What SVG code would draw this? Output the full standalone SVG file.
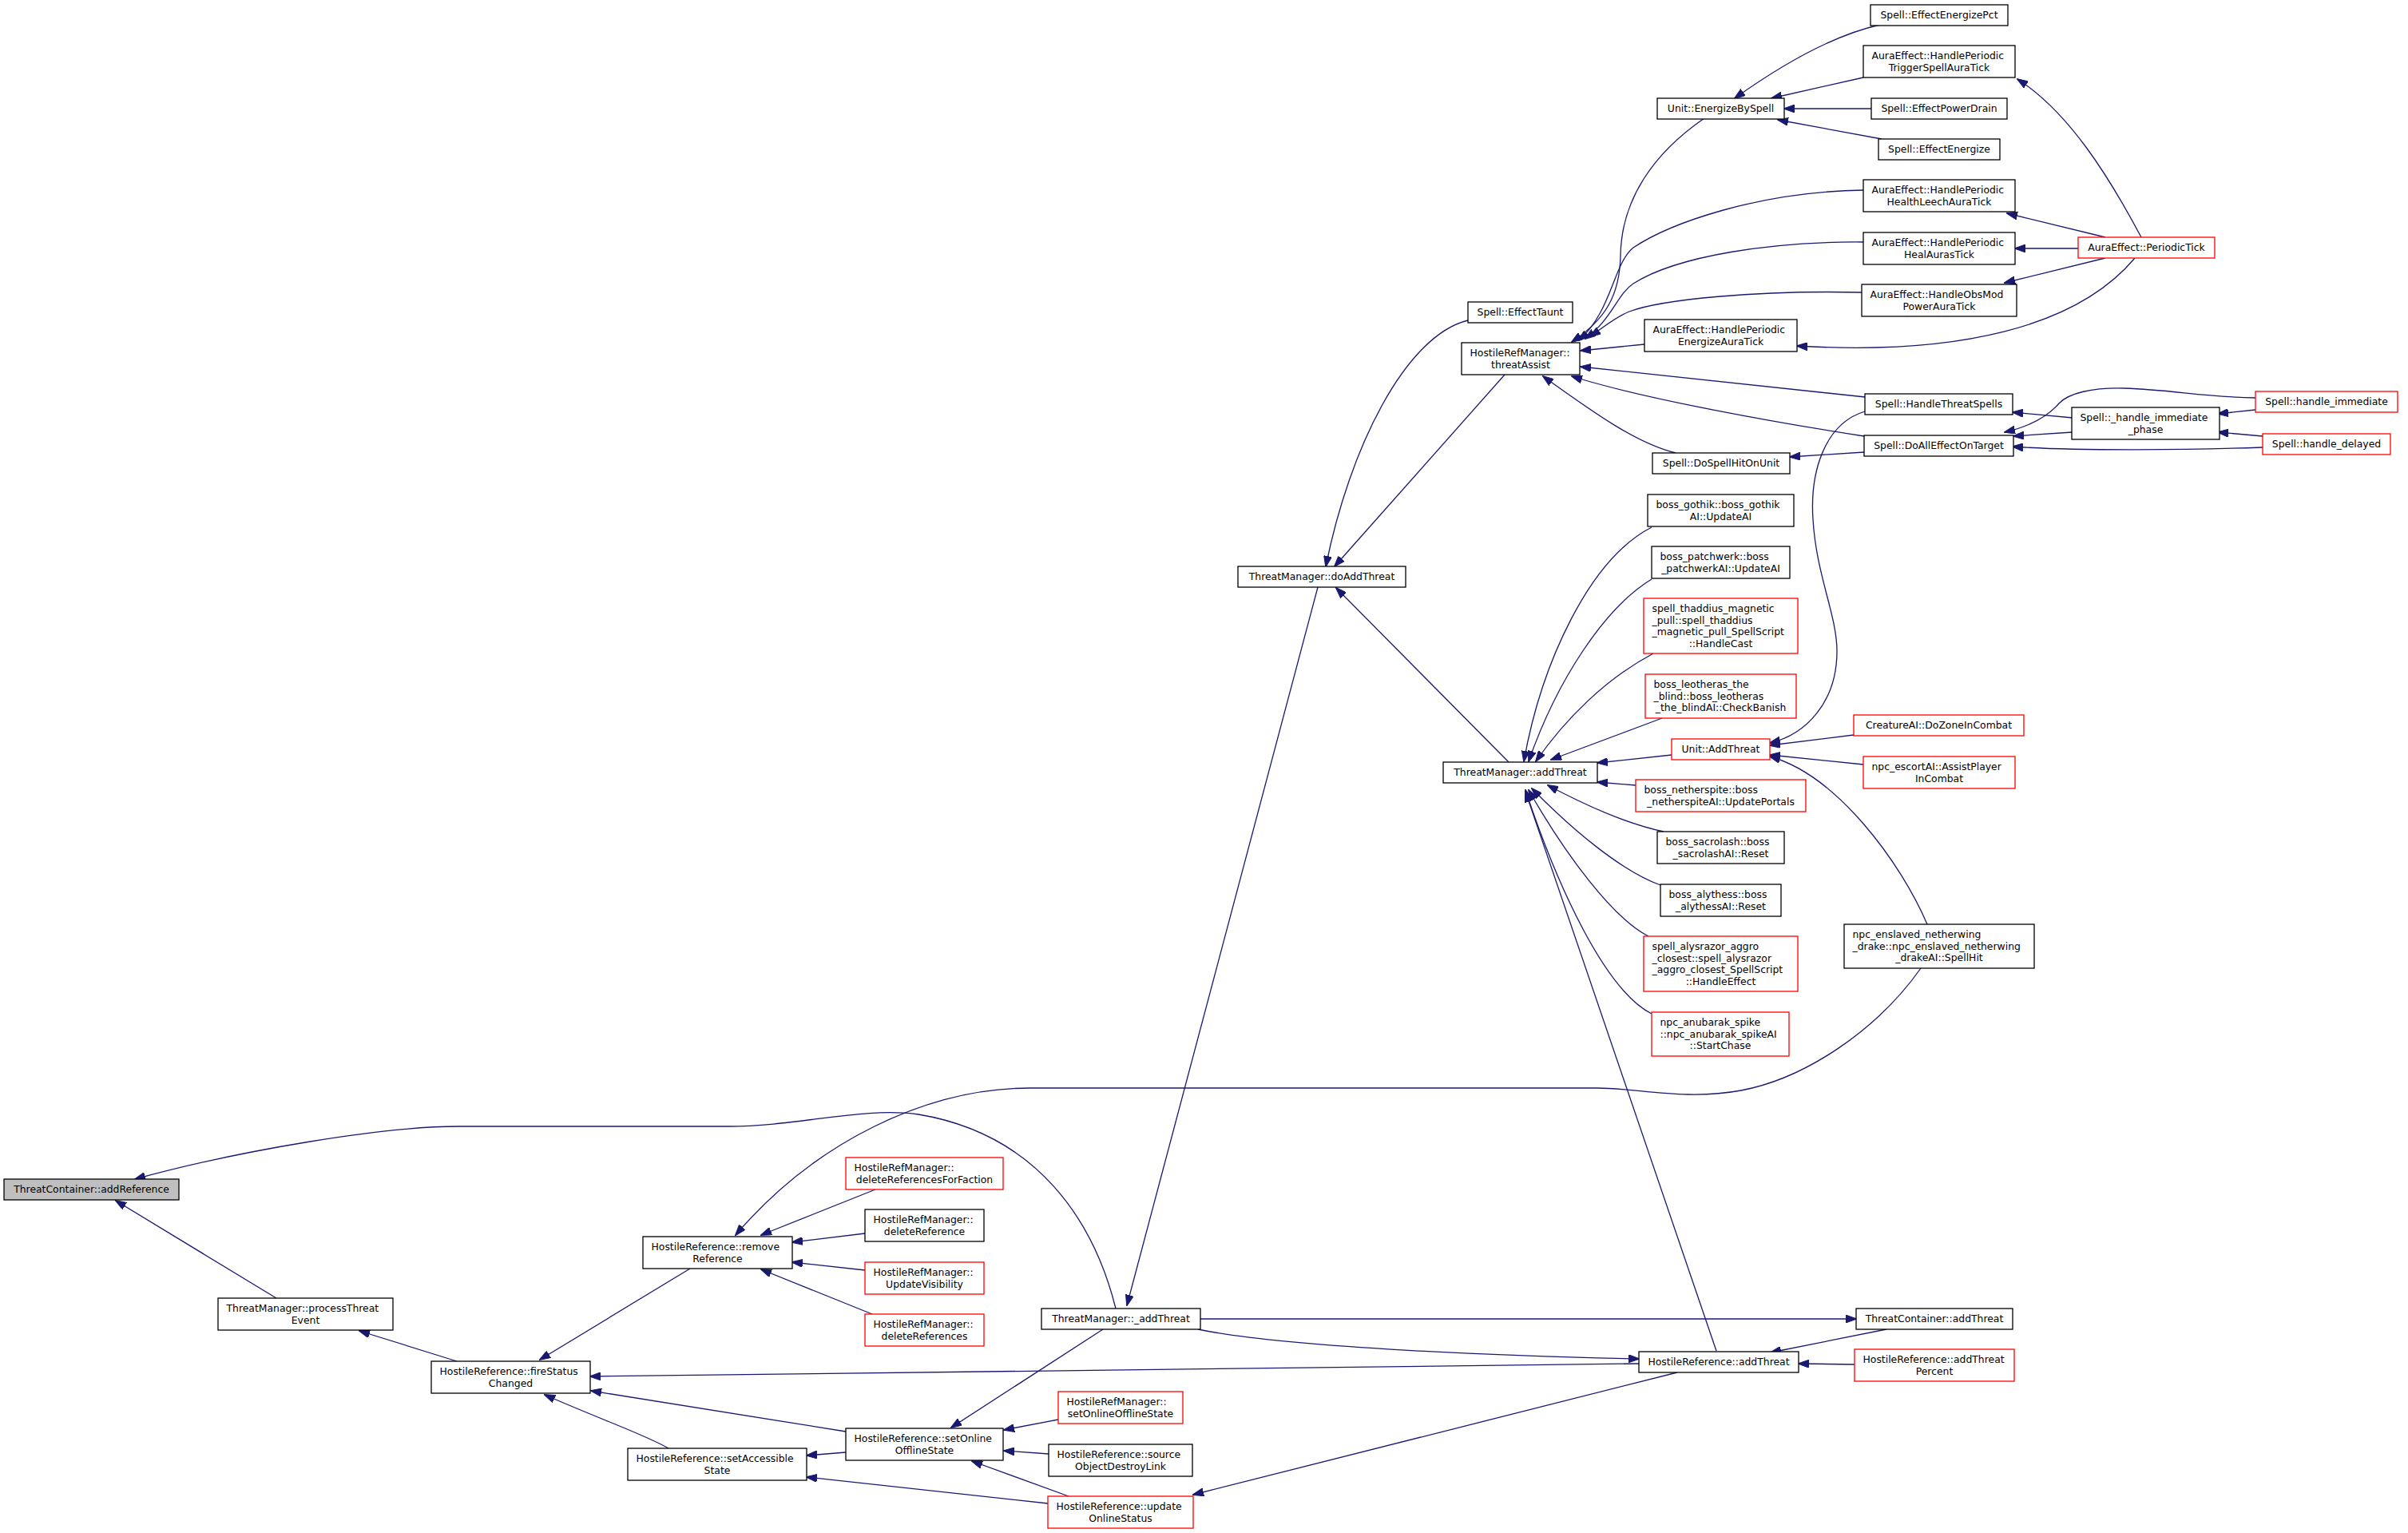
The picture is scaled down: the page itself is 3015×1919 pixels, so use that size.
<svg xmlns="http://www.w3.org/2000/svg" width="3015" height="1919" viewBox="0 0 3015 1919">
<style>
.n rect{fill:#fff;stroke:#000;stroke-width:1.3}
.r rect{stroke:#f00}
.g rect{fill:#bfbfbf}
text{font-family:"DejaVu Sans","Liberation Sans",sans-serif;font-size:12.4px;fill:#000}
.m{text-anchor:middle}
.e path{fill:none;stroke:#191970;stroke-width:1.3;marker-end:url(#a)}
</style>
<defs>
<marker id="a" markerUnits="userSpaceOnUse" markerWidth="14" markerHeight="10" viewBox="0 0 14 10" refX="13" refY="5" orient="auto"><path d="M0,0 L14,5 L0,10 z" fill="#191970" stroke="#191970" stroke-width="1"/></marker>
</defs>
<rect width="3015" height="1919" fill="#fff"/>
<g class="e" id="edges">
<path d="M346,1625 L145,1503"/>
<path d="M1397,1638 C1370,1530 1300,1420 1150,1395 C1080,1385 1000,1410 912,1410 L574,1410 C480,1410 300,1440 169,1476"/>
<path d="M572,1704 L450,1666"/>
<path d="M864,1588 L676,1702"/>
<path d="M837,1813 C810,1797 760,1780 682,1746"/>
<path d="M2052,1707 L739,1723"/>
<path d="M1500,1664 C1600,1685 1850,1697 2052,1701"/>
<path d="M1059,1792 L740,1741"/>
<path d="M1059,1818 L1010,1822"/>
<path d="M1312,1882 L1010,1849"/>
<path d="M1381,1664 L1191,1787"/>
<path d="M1325,1777 L1257,1790"/>
<path d="M1313,1820 L1257,1816"/>
<path d="M1338,1873 L1217,1829"/>
<path d="M2100,1718 L1494,1871"/>
<path d="M1503,1651 L2324,1651"/>
<path d="M2362,1664 L2217,1693"/>
<path d="M2322,1708 L2252,1707"/>
<path d="M1096,1489 L953,1546"/>
<path d="M1083,1544 L992,1555"/>
<path d="M1083,1590 L992,1580"/>
<path d="M1092,1645 L953,1589"/>
<path d="M2405,1212 C2350,1290 2260,1350 2180,1365 C2110,1378 2050,1362 2000,1362 L1290,1362 C1160,1362 1020,1430 921,1546"/>
<path d="M1838,401 C1760,420 1690,560 1660,709"/>
<path d="M1884,469 L1671,709"/>
<path d="M1889,954 L1673,736"/>
<path d="M1650,735 L1411,1634"/>
<path d="M2134,148 C2070,192 2030,250 2029,320 C2028,370 2010,400 1968,428"/>
<path d="M2333,238 C2200,240 2090,280 2045,310 C2020,330 2018,390 1977,426"/>
<path d="M2333,303 C2220,302 2100,320 2045,355 C2025,368 2018,400 1985,424"/>
<path d="M2331,366 C2200,363 2080,375 2040,390 C2020,398 2008,410 1991,421"/>
<path d="M2059,431 L1979,439"/>
<path d="M2335,497 L1979,459"/>
<path d="M2334,546 C2230,530 2060,500 1968,471"/>
<path d="M2098,567 C2050,555 2000,520 1932,471"/>
<path d="M2354,31 C2300,43 2235,78 2172,123"/>
<path d="M2333,97 L2218,123"/>
<path d="M2343,136 L2234,136"/>
<path d="M2356,174 L2226,150"/>
<path d="M2681,297 C2640,220 2590,140 2526,99"/>
<path d="M2636,297 L2513,267"/>
<path d="M2602,311 L2523,311"/>
<path d="M2636,323 L2510,354"/>
<path d="M2673,323 C2600,410 2450,445 2250,433"/>
<path d="M2595,523 L2520,516"/>
<path d="M2595,541 L2521,546"/>
<path d="M2824,498 C2760,497 2720,488 2660,486 C2620,485 2590,492 2578,505 C2565,520 2545,533 2510,541"/>
<path d="M2824,513 L2777,518"/>
<path d="M2833,546 L2777,541"/>
<path d="M2833,560 C2750,563 2600,565 2520,559"/>
<path d="M2334,566 L2241,572"/>
<path d="M2335,515 C2285,530 2266,590 2270,650 C2274,720 2300,770 2300,815 C2300,880 2260,920 2216,930"/>
<path d="M2321,920 L2216,933"/>
<path d="M2333,957 L2216,945"/>
<path d="M2413,1157 C2380,1080 2300,970 2216,947"/>
<path d="M2068,660 C1990,700 1930,830 1908,953"/>
<path d="M2068,725 C2010,760 1950,850 1914,953"/>
<path d="M2070,818 C2010,850 1960,900 1923,953"/>
<path d="M2081,899 L1942,951"/>
<path d="M2093,945 L2000,955"/>
<path d="M2048,983 L2000,979"/>
<path d="M2083,1041 C2030,1030 1970,1000 1938,983"/>
<path d="M2079,1108 C2030,1090 1970,1040 1918,987"/>
<path d="M2064,1172 C2020,1150 1960,1070 1914,989"/>
<path d="M2068,1269 C2010,1240 1950,1110 1910,989"/>
<path d="M2149,1691 L1910,991"/>
</g>
<g id="n1" class="n g"><rect x="5" y="1476" width="219" height="26"/><text class="m" x="114.5" y="1493">ThreatContainer::addReference</text></g>
<g id="n2" class="n"><rect x="273" y="1625" width="219" height="40"/><text x="283.5" y="1642">ThreatManager::processThreat</text><text class="m" x="382.5" y="1656.5">Event</text></g>
<g id="n3" class="n"><rect x="540" y="1704" width="199" height="40"/><text x="550.5" y="1721">HostileReference::fireStatus</text><text class="m" x="639.5" y="1735.5">Changed</text></g>
<g id="n4" class="n"><rect x="805" y="1548" width="187" height="40"/><text x="815.5" y="1565">HostileReference::remove</text><text class="m" x="898.5" y="1579.5">Reference</text></g>
<g id="n5" class="n"><rect x="786" y="1813" width="224" height="40"/><text x="796.5" y="1830">HostileReference::setAccessible</text><text class="m" x="898" y="1844.5">State</text></g>
<g id="n6" class="n r"><rect x="1059" y="1449" width="197" height="40"/><text x="1069.5" y="1466">HostileRefManager::</text><text class="m" x="1157.5" y="1480.5">deleteReferencesForFaction</text></g>
<g id="n7" class="n"><rect x="1083" y="1514" width="149" height="40"/><text x="1093.5" y="1531">HostileRefManager::</text><text class="m" x="1157.5" y="1545.5">deleteReference</text></g>
<g id="n8" class="n r"><rect x="1083" y="1580" width="149" height="40"/><text x="1093.5" y="1597">HostileRefManager::</text><text class="m" x="1157.5" y="1611.5">UpdateVisibility</text></g>
<g id="n9" class="n r"><rect x="1083" y="1645" width="149" height="40"/><text x="1093.5" y="1662">HostileRefManager::</text><text class="m" x="1157.5" y="1676.5">deleteReferences</text></g>
<g id="n10" class="n"><rect x="1304" y="1638" width="199" height="26"/><text class="m" x="1403.5" y="1655">ThreatManager::_addThreat</text></g>
<g id="n11" class="n r"><rect x="1325" y="1742" width="156" height="40"/><text x="1335.5" y="1759">HostileRefManager::</text><text class="m" x="1403" y="1773.5">setOnlineOfflineState</text></g>
<g id="n12" class="n"><rect x="1059" y="1788" width="197" height="40"/><text x="1069.5" y="1805">HostileReference::setOnline</text><text class="m" x="1157.5" y="1819.5">OfflineState</text></g>
<g id="n13" class="n"><rect x="1313" y="1808" width="180" height="40"/><text x="1323.5" y="1825">HostileReference::source</text><text class="m" x="1403" y="1839.5">ObjectDestroyLink</text></g>
<g id="n14" class="n r"><rect x="1312" y="1873" width="182" height="40"/><text x="1322.5" y="1890">HostileReference::update</text><text class="m" x="1403" y="1904.5">OnlineStatus</text></g>
<g id="n15" class="n"><rect x="2324" y="1638" width="196" height="26"/><text class="m" x="2422" y="1655">ThreatContainer::addThreat</text></g>
<g id="n16" class="n"><rect x="2052" y="1692" width="200" height="26"/><text class="m" x="2152" y="1709">HostileReference::addThreat</text></g>
<g id="n17" class="n r"><rect x="2322" y="1689" width="200" height="40"/><text x="2332.5" y="1706">HostileReference::addThreat</text><text class="m" x="2422" y="1720.5">Percent</text></g>
<g id="n18" class="n"><rect x="1550" y="709" width="210" height="26"/><text class="m" x="1655" y="726">ThreatManager::doAddThreat</text></g>
<g id="n19" class="n"><rect x="1807" y="954" width="193" height="26"/><text class="m" x="1903.5" y="971">ThreatManager::addThreat</text></g>
<g id="n20" class="n"><rect x="1838" y="378" width="131" height="26"/><text class="m" x="1903.5" y="395">Spell::EffectTaunt</text></g>
<g id="n21" class="n"><rect x="1830" y="429" width="148" height="40"/><text x="1840.5" y="446">HostileRefManager::</text><text class="m" x="1904" y="460.5">threatAssist</text></g>
<g id="n22" class="n"><rect x="2075" y="123" width="159" height="26"/><text class="m" x="2154.5" y="140">Unit::EnergizeBySpell</text></g>
<g id="n23" class="n"><rect x="2342" y="6" width="172" height="26"/><text class="m" x="2428" y="23">Spell::EffectEnergizePct</text></g>
<g id="n24" class="n"><rect x="2333" y="57" width="190" height="40"/><text x="2343.5" y="74">AuraEffect::HandlePeriodic</text><text class="m" x="2428" y="88.5">TriggerSpellAuraTick</text></g>
<g id="n25" class="n"><rect x="2343" y="123" width="170" height="26"/><text class="m" x="2428" y="140">Spell::EffectPowerDrain</text></g>
<g id="n26" class="n"><rect x="2352" y="174" width="152" height="26"/><text class="m" x="2428" y="191">Spell::EffectEnergize</text></g>
<g id="n27" class="n"><rect x="2333" y="225" width="190" height="40"/><text x="2343.5" y="242">AuraEffect::HandlePeriodic</text><text class="m" x="2428" y="256.5">HealthLeechAuraTick</text></g>
<g id="n28" class="n"><rect x="2333" y="291" width="190" height="40"/><text x="2343.5" y="308">AuraEffect::HandlePeriodic</text><text class="m" x="2428" y="322.5">HealAurasTick</text></g>
<g id="n29" class="n"><rect x="2331" y="356" width="194" height="40"/><text x="2341.5" y="373">AuraEffect::HandleObsMod</text><text class="m" x="2428" y="387.5">PowerAuraTick</text></g>
<g id="n30" class="n"><rect x="2059" y="400" width="191" height="40"/><text x="2069.5" y="417">AuraEffect::HandlePeriodic</text><text class="m" x="2154.5" y="431.5">EnergizeAuraTick</text></g>
<g id="n31" class="n r"><rect x="2602" y="297" width="171" height="26"/><text class="m" x="2687.5" y="314">AuraEffect::PeriodicTick</text></g>
<g id="n32" class="n"><rect x="2335" y="493" width="185" height="26"/><text class="m" x="2427.5" y="510">Spell::HandleThreatSpells</text></g>
<g id="n33" class="n"><rect x="2334" y="545" width="187" height="26"/><text class="m" x="2427.5" y="562">Spell::DoAllEffectOnTarget</text></g>
<g id="n34" class="n"><rect x="2069" y="567" width="172" height="26"/><text class="m" x="2155" y="584">Spell::DoSpellHitOnUnit</text></g>
<g id="n35" class="n"><rect x="2594" y="510" width="185" height="40"/><text x="2604.5" y="527">Spell::_handle_immediate</text><text class="m" x="2686.5" y="541.5">_phase</text></g>
<g id="n36" class="n r"><rect x="2824" y="490" width="178" height="26"/><text class="m" x="2913" y="507">Spell::handle_immediate</text></g>
<g id="n37" class="n r"><rect x="2833" y="543" width="160" height="26"/><text class="m" x="2913" y="560">Spell::handle_delayed</text></g>
<g id="n38" class="n"><rect x="2063" y="619" width="183" height="40"/><text x="2073.5" y="636">boss_gothik::boss_gothik</text><text class="m" x="2154.5" y="650.5">AI::UpdateAI</text></g>
<g id="n39" class="n"><rect x="2068" y="684" width="173" height="40"/><text x="2078.5" y="701">boss_patchwerk::boss</text><text class="m" x="2154.5" y="715.5">_patchwerkAI::UpdateAI</text></g>
<g id="n40" class="n r"><rect x="2058" y="749" width="193" height="69"/><text x="2068.5" y="766">spell_thaddius_magnetic</text><text x="2068.5" y="780.5">_pull::spell_thaddius</text><text x="2068.5" y="795">_magnetic_pull_SpellScript</text><text class="m" x="2154.5" y="809.5">::HandleCast</text></g>
<g id="n41" class="n r"><rect x="2060" y="844" width="189" height="55"/><text x="2070.5" y="861">boss_leotheras_the</text><text x="2070.5" y="875.5">_blind::boss_leotheras</text><text class="m" x="2154.5" y="890">_the_blindAI::CheckBanish</text></g>
<g id="n42" class="n r"><rect x="2093" y="925" width="123" height="26"/><text class="m" x="2154.5" y="942">Unit::AddThreat</text></g>
<g id="n43" class="n r"><rect x="2048" y="976" width="213" height="40"/><text x="2058.5" y="993">boss_netherspite::boss</text><text class="m" x="2154.5" y="1007.5">_netherspiteAI::UpdatePortals</text></g>
<g id="n44" class="n"><rect x="2075" y="1041" width="159" height="40"/><text x="2085.5" y="1058">boss_sacrolash::boss</text><text class="m" x="2154.5" y="1072.5">_sacrolashAI::Reset</text></g>
<g id="n45" class="n"><rect x="2079" y="1107" width="151" height="40"/><text x="2089.5" y="1124">boss_alythess::boss</text><text class="m" x="2154.5" y="1138.5">_alythessAI::Reset</text></g>
<g id="n46" class="n r"><rect x="2058" y="1172" width="193" height="69"/><text x="2068.5" y="1189">spell_alysrazor_aggro</text><text x="2068.5" y="1203.5">_closest::spell_alysrazor</text><text x="2068.5" y="1218">_aggro_closest_SpellScript</text><text class="m" x="2154.5" y="1232.5">::HandleEffect</text></g>
<g id="n47" class="n r"><rect x="2068" y="1267" width="172" height="55"/><text x="2078.5" y="1284">npc_anubarak_spike</text><text x="2078.5" y="1298.5">::npc_anubarak_spikeAI</text><text class="m" x="2154" y="1313">::StartChase</text></g>
<g id="n48" class="n r"><rect x="2321" y="895" width="213" height="26"/><text class="m" x="2427.5" y="912">CreatureAI::DoZoneInCombat</text></g>
<g id="n49" class="n r"><rect x="2333" y="947" width="190" height="40"/><text x="2343.5" y="964">npc_escortAI::AssistPlayer</text><text class="m" x="2428" y="978.5">InCombat</text></g>
<g id="n50" class="n"><rect x="2309" y="1157" width="238" height="55"/><text x="2319.5" y="1174">npc_enslaved_netherwing</text><text x="2319.5" y="1188.5">_drake::npc_enslaved_netherwing</text><text class="m" x="2428" y="1203">_drakeAI::SpellHit</text></g>
</svg>
